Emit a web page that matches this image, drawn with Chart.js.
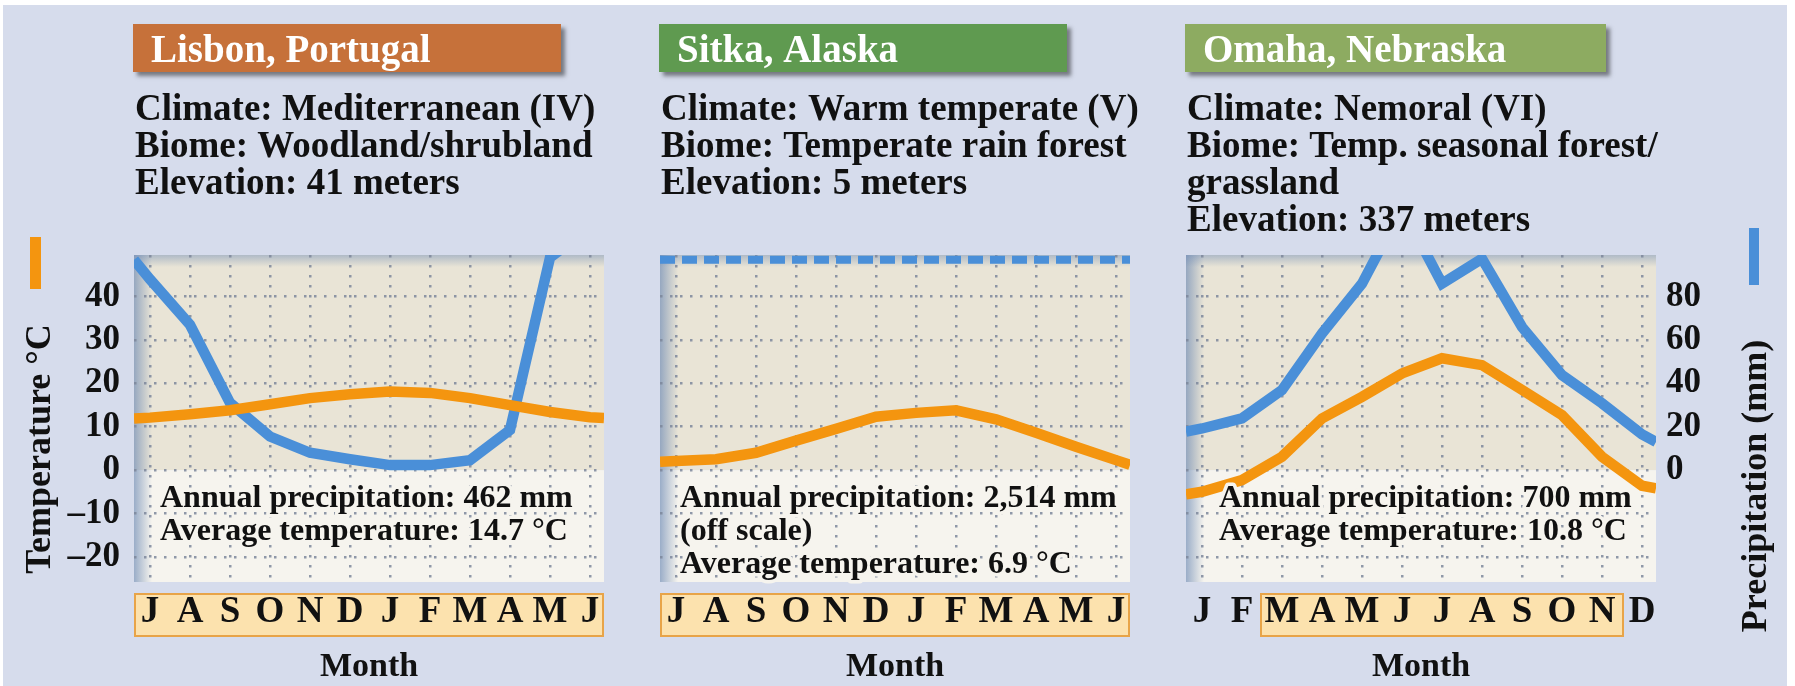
<!DOCTYPE html>
<html>
<head>
<meta charset="utf-8">
<script src="https://cdn.jsdelivr.net/npm/chart.js@4.4.0/dist/chart.umd.min.js"></script>
<style>
  html, body { margin: 0; padding: 0; background: #fff; }
  #page { position: relative; width: 1795px; height: 686px; overflow: hidden; }
  #bg { position: absolute; left: 3px; top: 5px; width: 1784px; height: 681px; background: #d6dcec; }
  canvas { position: absolute; top: 0; }
</style>
</head>
<body>
<div id="page">
  <div id="bg"></div>
  <canvas id="c1" width="640" height="686" style="left:0px"></canvas>
  <canvas id="c2" width="520" height="686" style="left:640px"></canvas>
  <canvas id="c3" width="635" height="686" style="left:1160px"></canvas>
</div>
<script>
// month letters
const monthsJulJun = ['J', 'A', 'S', 'O', 'N', 'D', 'J', 'F', 'M', 'A', 'M', 'J'];
const monthsJanDec = ['J', 'F', 'M', 'A', 'M', 'J', 'J', 'A', 'S', 'O', 'N', 'D'];

// monthly mean temperature (°C) and precipitation (mm).
// the *Edges arrays are the values where each curve meets the left / right plot edge
const lisbonTemp        = [12.1, 12.9, 13.8, 15.2, 16.6, 17.5, 18.1, 17.8, 16.6, 15.0, 13.4, 12.2];
const lisbonTempEdges   = [11.9, 12.0];
const lisbonPrecip      = [88, 67, 31, 15.5, 8, 5, 2.3, 2.3, 4.6, 18.5, 98, 112];
const lisbonPrecipEdges = [97, 125];

const sitkaTemp         = [2.1, 2.5, 4.0, 6.8, 9.5, 12.3, 13.2, 13.8, 11.7, 8.6, 5.4, 2.3];
const sitkaTempEdges    = [1.9, 1.2];
// Sitka precipitation is off scale every month: drawn as a dashed line along the top
const sitkaPrecip       = [97, 97, 97, 97, 97, 97, 97, 97, 97, 97, 97, 97];
const sitkaPrecipEdges  = [97, 97];

const omahaTemp         = [-5.0, -2.3, 3.1, 11.9, 16.9, 22.3, 25.8, 24.2, 18.5, 12.7, 3.1, -3.6];
const omahaTempEdges    = [-5.6, -4.2];
const omahaPrecip       = [19.2, 23.9, 36.9, 63, 86, 121, 86, 97.5, 66, 43.8, 30.8, 16.5];
const omahaPrecipEdges  = [17.7, 13];

const tempTicks   = [-20, -10, 0, 10, 20, 30, 40];
const precipTicks = [0, 20, 40, 60, 80];

const X_MIN = -0.4, X_MAX = 11.35;
const ORANGE = '#f4950f';
const BLUE = '#4a8fd8';
const GRID = 'rgba(125,135,155,0.85)';
const FONT = 'Liberation Serif';
Chart.defaults.font.family = FONT;

function points(vals, edges) {
  const pts = vals.map((v, i) => ({x: i, y: v}));
  pts.unshift({x: X_MIN, y: edges[0]});
  pts.push({x: X_MAX, y: edges[1]});
  return pts;
}

const panels = [
  {
    id: 'c1', ox: 0, months: monthsJulJun, dashed: false,
    temp: points(lisbonTemp, lisbonTempEdges), precip: points(lisbonPrecip, lisbonPrecipEdges),
    title: 'Lisbon, Portugal', titleColor: '#c6713a', titleWidth: 428,
    info: ['Climate: Mediterranean (IV)', 'Biome: Woodland/shrubland', 'Elevation: 41 meters'],
    notes: ['Annual precipitation: 462 mm', 'Average temperature: 14.7 \u00b0C'], noteX: 26,
    highlight: [0, 11], leftAxis: true, rightAxis: false, padLeft: 0, padRight: 36
  },
  {
    id: 'c2', ox: 640, months: monthsJulJun, dashed: true,
    temp: points(sitkaTemp, sitkaTempEdges), precip: points(sitkaPrecip, sitkaPrecipEdges),
    title: 'Sitka, Alaska', titleColor: '#5f9a50', titleWidth: 408,
    info: ['Climate: Warm temperate (V)', 'Biome: Temperate rain forest', 'Elevation: 5 meters'],
    notes: ['Annual precipitation: 2,514 mm', '(off scale)', 'Average temperature: 6.9 \u00b0C'], noteX: 20,
    highlight: [0, 11], leftAxis: false, rightAxis: false, padLeft: 20, padRight: 30
  },
  {
    id: 'c3', ox: 1160, months: monthsJanDec, dashed: false,
    temp: points(omahaTemp, omahaTempEdges), precip: points(omahaPrecip, omahaPrecipEdges),
    title: 'Omaha, Nebraska', titleColor: '#8dab61', titleWidth: 421,
    info: ['Climate: Nemoral (VI)', 'Biome: Temp. seasonal forest/', 'grassland', 'Elevation: 337 meters'],
    notes: ['Annual precipitation: 700 mm', 'Average temperature: 10.8 \u00b0C'], noteX: 33,
    highlight: [2, 10], leftAxis: false, rightAxis: true, padLeft: 26, padRight: 0
  }
];

const decor = {
  id: 'decor',
  beforeDraw(chart, args, o) {
    const {ctx, chartArea: a, scales} = chart;
    const p = o.panel;
    ctx.save();

    // plot background: beige above 0 °C, lighter below
    const y0 = scales.y.getPixelForValue(0);
    ctx.fillStyle = '#e9e4d6';
    ctx.fillRect(a.left, a.top, a.width, y0 - a.top);
    ctx.fillStyle = '#f6f4ee';
    ctx.fillRect(a.left, y0, a.width, a.bottom - y0);
    let g = ctx.createLinearGradient(a.left, 0, a.left + 18, 0);
    g.addColorStop(0, 'rgba(105,135,180,0.65)');
    g.addColorStop(1, 'rgba(105,135,180,0)');
    ctx.fillStyle = g;
    ctx.fillRect(a.left, a.top, 18, a.height);
    g = ctx.createLinearGradient(0, a.top, 0, a.top + 12);
    g.addColorStop(0, 'rgba(105,135,180,0.45)');
    g.addColorStop(1, 'rgba(105,135,180,0)');
    ctx.fillStyle = g;
    ctx.fillRect(a.left, a.top, a.width, 12);

    // month box
    const bx0 = Math.max(a.left, scales.x.getPixelForValue(p.highlight[0] - 0.55));
    const bx1 = Math.min(a.right, scales.x.getPixelForValue(p.highlight[1] + 0.55));
    ctx.fillStyle = '#fce2ae';
    ctx.strokeStyle = '#e8a448';
    ctx.lineWidth = 2;
    ctx.fillRect(bx0, 593, bx1 - bx0, 44);
    ctx.strokeRect(bx0 + 1, 594, bx1 - bx0 - 2, 42);

    // title box
    ctx.save();
    ctx.shadowColor = 'rgba(0,0,0,0.45)';
    ctx.shadowOffsetX = 4;
    ctx.shadowOffsetY = 4;
    ctx.shadowBlur = 4;
    ctx.fillStyle = p.titleColor;
    ctx.fillRect(a.left - 1, 24, p.titleWidth, 48);
    ctx.restore();
    ctx.fillStyle = '#fff';
    ctx.font = 'bold 39px "' + FONT + '"';
    ctx.textBaseline = 'alphabetic';
    ctx.textAlign = 'left';
    ctx.fillText(p.title, a.left + 17, 62);

    // site description
    ctx.fillStyle = '#111';
    ctx.font = 'bold 37px "' + FONT + '"';
    p.info.forEach((t, i) => ctx.fillText(t, a.left + 1, 120 + 37 * i));

    // axis titles and colour keys
    ctx.font = 'bold 36px "' + FONT + '"';
    ctx.textAlign = 'center';
    if (p.leftAxis) {
      ctx.fillStyle = ORANGE;
      ctx.fillRect(30, 237, 11, 52);
      ctx.save();
      ctx.translate(50, 449);
      ctx.rotate(-Math.PI / 2);
      ctx.fillStyle = '#111';
      ctx.fillText('Temperature \u00b0C', 0, 0);
      ctx.restore();
    }
    if (p.rightAxis) {
      ctx.fillStyle = BLUE;
      ctx.fillRect(1749 - p.ox, 228, 10, 57);
      ctx.save();
      ctx.translate(1766 - p.ox, 486);
      ctx.rotate(-Math.PI / 2);
      ctx.fillStyle = '#111';
      ctx.fillText('Precipitation (mm)', 0, 0);
      ctx.restore();
    }
    ctx.restore();
  },
  afterDatasetsDraw(chart, args, o) {
    const {ctx, chartArea: a} = chart;
    const p = o.panel;
    ctx.save();
    ctx.font = 'bold 32px "' + FONT + '"';
    ctx.textAlign = 'left';
    ctx.textBaseline = 'alphabetic';
    ctx.lineJoin = 'round';
    ctx.lineWidth = 7;
    ctx.strokeStyle = '#f6f4ee';
    ctx.fillStyle = '#111';
    p.notes.forEach((t, i) => {
      ctx.strokeText(t, a.left + p.noteX, 507 + 33 * i);
      ctx.fillText(t, a.left + p.noteX, 507 + 33 * i);
    });
    ctx.restore();
  }
};

panels.forEach(p => {
  new Chart(document.getElementById(p.id), {
    type: 'line',
    data: {
      datasets: [
        { data: p.temp, yAxisID: 'y', borderColor: ORANGE, borderWidth: 10.5, clip: 0 },
        { data: p.precip, yAxisID: 'y2', borderColor: BLUE, borderWidth: p.dashed ? 8 : 10.5,
          borderDash: p.dashed ? [15, 7] : [], clip: 0 }
      ]
    },
    options: {
      responsive: false,
      animation: false,
      devicePixelRatio: 1,
      layout: { padding: { top: 255, left: p.padLeft, right: p.padRight, bottom: 0 } },
      elements: { point: { radius: 0 }, line: { tension: 0, fill: false } },
      plugins: { legend: { display: false }, tooltip: { enabled: false }, decor: { panel: p } },
      scales: {
        x: {
          type: 'linear', min: X_MIN, max: X_MAX,
          afterBuildTicks: s => { s.ticks = p.months.map((m, i) => ({value: i})); },
          afterFit: s => { s.height = 104; },
          ticks: { callback: v => p.months[v], padding: 8, autoSkip: false, maxRotation: 0,
                   color: '#111', font: { size: 37, weight: 'bold' } },
          grid: { color: GRID, lineWidth: 2.5, drawTicks: false },
          border: { display: false, dash: [2.5, 7.5] },
          title: { display: true, text: 'Month', color: '#111', padding: { top: 0, bottom: 2 },
                   font: { size: 34, weight: 'bold', lineHeight: 1 } }
        },
        y: {
          position: 'left', min: -25.8, max: 49.6,
          afterBuildTicks: s => { s.ticks = tempTicks.map(v => ({value: v})); },
          afterFit: s => { s.width = p.leftAxis ? 134 : 0; },
          ticks: { display: p.leftAxis, padding: 14, color: '#111', font: { size: 35, weight: 'bold' },
                   callback: v => v < 0 ? '\u2013' + Math.abs(v) : String(v) },
          grid: { color: GRID, lineWidth: 2.5, drawTicks: false },
          border: { display: false, dash: [2.5, 7.5] }
        },
        y2: {
          position: 'right', min: -51.6, max: 99.2, display: p.rightAxis,
          afterBuildTicks: s => { s.ticks = precipTicks.map(v => ({value: v})); },
          afterFit: s => { if (p.rightAxis) s.width = 139; },
          ticks: { padding: 10, color: '#111', font: { size: 35, weight: 'bold' } },
          grid: { drawOnChartArea: false, drawTicks: false },
          border: { display: false }
        }
      }
    },
    plugins: [decor]
  });
});
</script>
</body>
</html>
